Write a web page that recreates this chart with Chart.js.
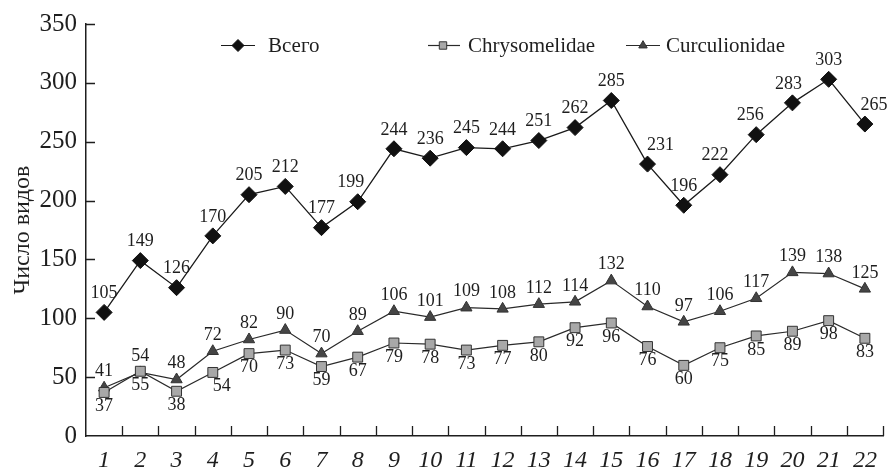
<!DOCTYPE html>
<html>
<head>
<meta charset="utf-8">
<script src="https://cdn.jsdelivr.net/npm/chart.js@4.4.1/dist/chart.umd.min.js"></script>
<style>
  html, body { margin: 0; padding: 0; background: #fff; }
  #wrap { width: 892px; height: 471px; position: relative; }
</style>
</head>
<body>
<div id="wrap"><canvas id="chart" width="892" height="471"></canvas></div>
<script>
// Categories along the x axis
const categories = ['1','2','3','4','5','6','7','8','9','10','11','12','13','14','15','16','17','18','19','20','21','22'];

// Species counts
const totalSpecies = [105,149,126,170,205,212,177,199,244,236,245,244,251,262,285,231,196,222,256,283,303,265];
const chrysomelidae = [37,55,38,54,70,73,59,67,79,78,73,77,80,92,96,76,60,75,85,89,98,83];
const curculionidae = [41,54,48,72,82,90,70,89,106,101,109,108,112,114,132,110,97,106,117,139,138,125];

const seriesNames = ['Всего', 'Chrysomelidae', 'Curculionidae'];
const yTicks = [0, 50, 100, 150, 200, 250, 300, 350];

// Horizontal nudges for value labels that would otherwise collide with lines
const totalLabelShift = [0,0,0,0,0,0,0,-7,0,0,0,0,0,0,0,13,0,-5,-6,-4,0,9];
const chrysoLabelShift = [0,0,0,9,0,0,0,0,0,0,0,0,0,0,0,0,0,0,0,0,0,0];

const SERIF = "'Liberation Serif', 'Times New Roman', serif";
const INK = '#1e1e1e';

// Value labels: above the points for totals and weevils, below for leaf beetles
const valueLabels = {
  id: 'valueLabels',
  afterDatasetsDraw(chart) {
    const ctx = chart.ctx;
    ctx.save();
    ctx.font = '18px ' + SERIF;
    ctx.fillStyle = INK;
    ctx.textAlign = 'center';
    ctx.textBaseline = 'middle';
    const cfg = [
      { dy: -19, shift: totalLabelShift },
      { dy: 14, shift: chrysoLabelShift },
      { dy: -16, shift: null }
    ];
    chart.data.datasets.forEach((ds, di) => {
      const meta = chart.getDatasetMeta(di);
      meta.data.forEach((pt, i) => {
        const dx = cfg[di].shift ? cfg[di].shift[i] : 0;
        ctx.fillText(String(ds.data[i]), pt.x + dx, pt.y + cfg[di].dy);
      });
    });
    ctx.restore();
  }
};

// Inward tick marks on both axes
const innerTicks = {
  id: 'innerTicks',
  afterDraw(chart) {
    const ctx = chart.ctx;
    const a = chart.chartArea;
    const xs = chart.scales.x;
    const ys = chart.scales.y;
    ctx.save();
    ctx.strokeStyle = INK;
    ctx.lineWidth = 1.3;
    ctx.beginPath();
    const step = xs.getPixelForValue(1) - xs.getPixelForValue(0);
    for (let i = 0; i < categories.length; i++) {
      const x = Math.round(xs.getPixelForValue(i) + step / 2) + 0.5;
      ctx.moveTo(x, a.bottom);
      ctx.lineTo(x, a.bottom - 10);
    }
    yTicks.forEach(v => {
      if (v === 0) return;
      const y = Math.round(ys.getPixelForValue(v)) + 0.5;
      ctx.moveTo(a.left, y);
      ctx.lineTo(a.left + 9, y);
    });
    ctx.stroke();
    ctx.restore();
  }
};

// Legend row: short line segment with the series marker, then the name
const lineLegend = {
  id: 'lineLegend',
  afterDraw(chart) {
    const ctx = chart.ctx;
    const items = [
      { x1: 221, x2: 255, mx: 238, tx: 268 },
      { x1: 428, x2: 460, mx: 443, tx: 468 },
      { x1: 626, x2: 660, mx: 643, tx: 666 }
    ];
    const y = 45;
    ctx.save();
    chart.data.datasets.forEach((ds, i) => {
      const it = items[i];
      ctx.strokeStyle = ds.borderColor;
      ctx.lineWidth = 1.2;
      ctx.beginPath();
      ctx.moveTo(it.x1, y + 0.5);
      ctx.lineTo(it.x2, y + 0.5);
      ctx.stroke();
      ctx.fillStyle = ds.pointBackgroundColor;
      ctx.strokeStyle = ds.pointBorderColor;
      ctx.lineWidth = 1;
      Chart.helpers.drawPoint(ctx, {
        pointStyle: ds.pointStyle,
        radius: ds.pointRadius * 0.75,
        borderWidth: 1
      }, it.mx, y + 0.5);
      ctx.fillStyle = INK;
      ctx.font = '21px ' + SERIF;
      ctx.textAlign = 'left';
      ctx.textBaseline = 'middle';
      ctx.fillText(seriesNames[i], it.tx, y + 1);
    });
    ctx.restore();
  }
};

new Chart(document.getElementById('chart'), {
  type: 'line',
  data: {
    labels: categories,
    datasets: [
      {
        label: seriesNames[0],
        data: totalSpecies,
        borderColor: '#1a1a1a',
        borderWidth: 1.3,
        pointStyle: 'rectRot',
        pointRadius: 8,
        pointBackgroundColor: '#111',
        pointBorderColor: '#111',
        pointBorderWidth: 1,
        tension: 0
      },
      {
        label: seriesNames[1],
        data: chrysomelidae,
        borderColor: '#2a2a2a',
        borderWidth: 1.2,
        pointStyle: 'rect',
        pointRadius: 7,
        pointBackgroundColor: '#a8a8a8',
        pointBorderColor: '#333',
        pointBorderWidth: 1,
        tension: 0
      },
      {
        label: seriesNames[2],
        data: curculionidae,
        borderColor: '#2a2a2a',
        borderWidth: 1.2,
        pointStyle: 'triangle',
        pointRadius: 6.5,
        pointBackgroundColor: '#454545',
        pointBorderColor: '#333',
        pointBorderWidth: 1,
        tension: 0
      }
    ]
  },
  options: {
    responsive: false,
    animation: false,
    events: [],
    layout: { padding: { left: 0, right: 3, top: 24, bottom: 0 } },
    plugins: {
      legend: { display: false },
      tooltip: { enabled: false }
    },
    scales: {
      x: {
        offset: true,
        grid: { display: false, drawTicks: false, offset: true },
        border: { display: true, color: INK, width: 1.5 },
        ticks: {
          color: INK,
          padding: 10,
          maxRotation: 0,
          autoSkip: false,
          font: { family: SERIF, size: 24, style: 'italic' }
        },
        afterFit(scale) { scale.height = 35; }
      },
      y: {
        min: 0,
        max: 350,
        afterBuildTicks(scale) { scale.ticks = yTicks.map(v => ({ value: v })); },
        grid: { display: false, drawTicks: false },
        border: { display: true, color: INK, width: 1.5 },
        ticks: {
          color: INK,
          padding: 9,
          font: { family: SERIF, size: 25 }
        },
        title: {
          display: true,
          text: 'Число видов',
          color: INK,
          padding: { top: 8, bottom: 0 },
          font: { family: SERIF, size: 24 }
        },
        afterFit(scale) { scale.width = 86; }
      }
    }
  },
  plugins: [valueLabels, innerTicks, lineLegend]
});
</script>
</body>
</html>
